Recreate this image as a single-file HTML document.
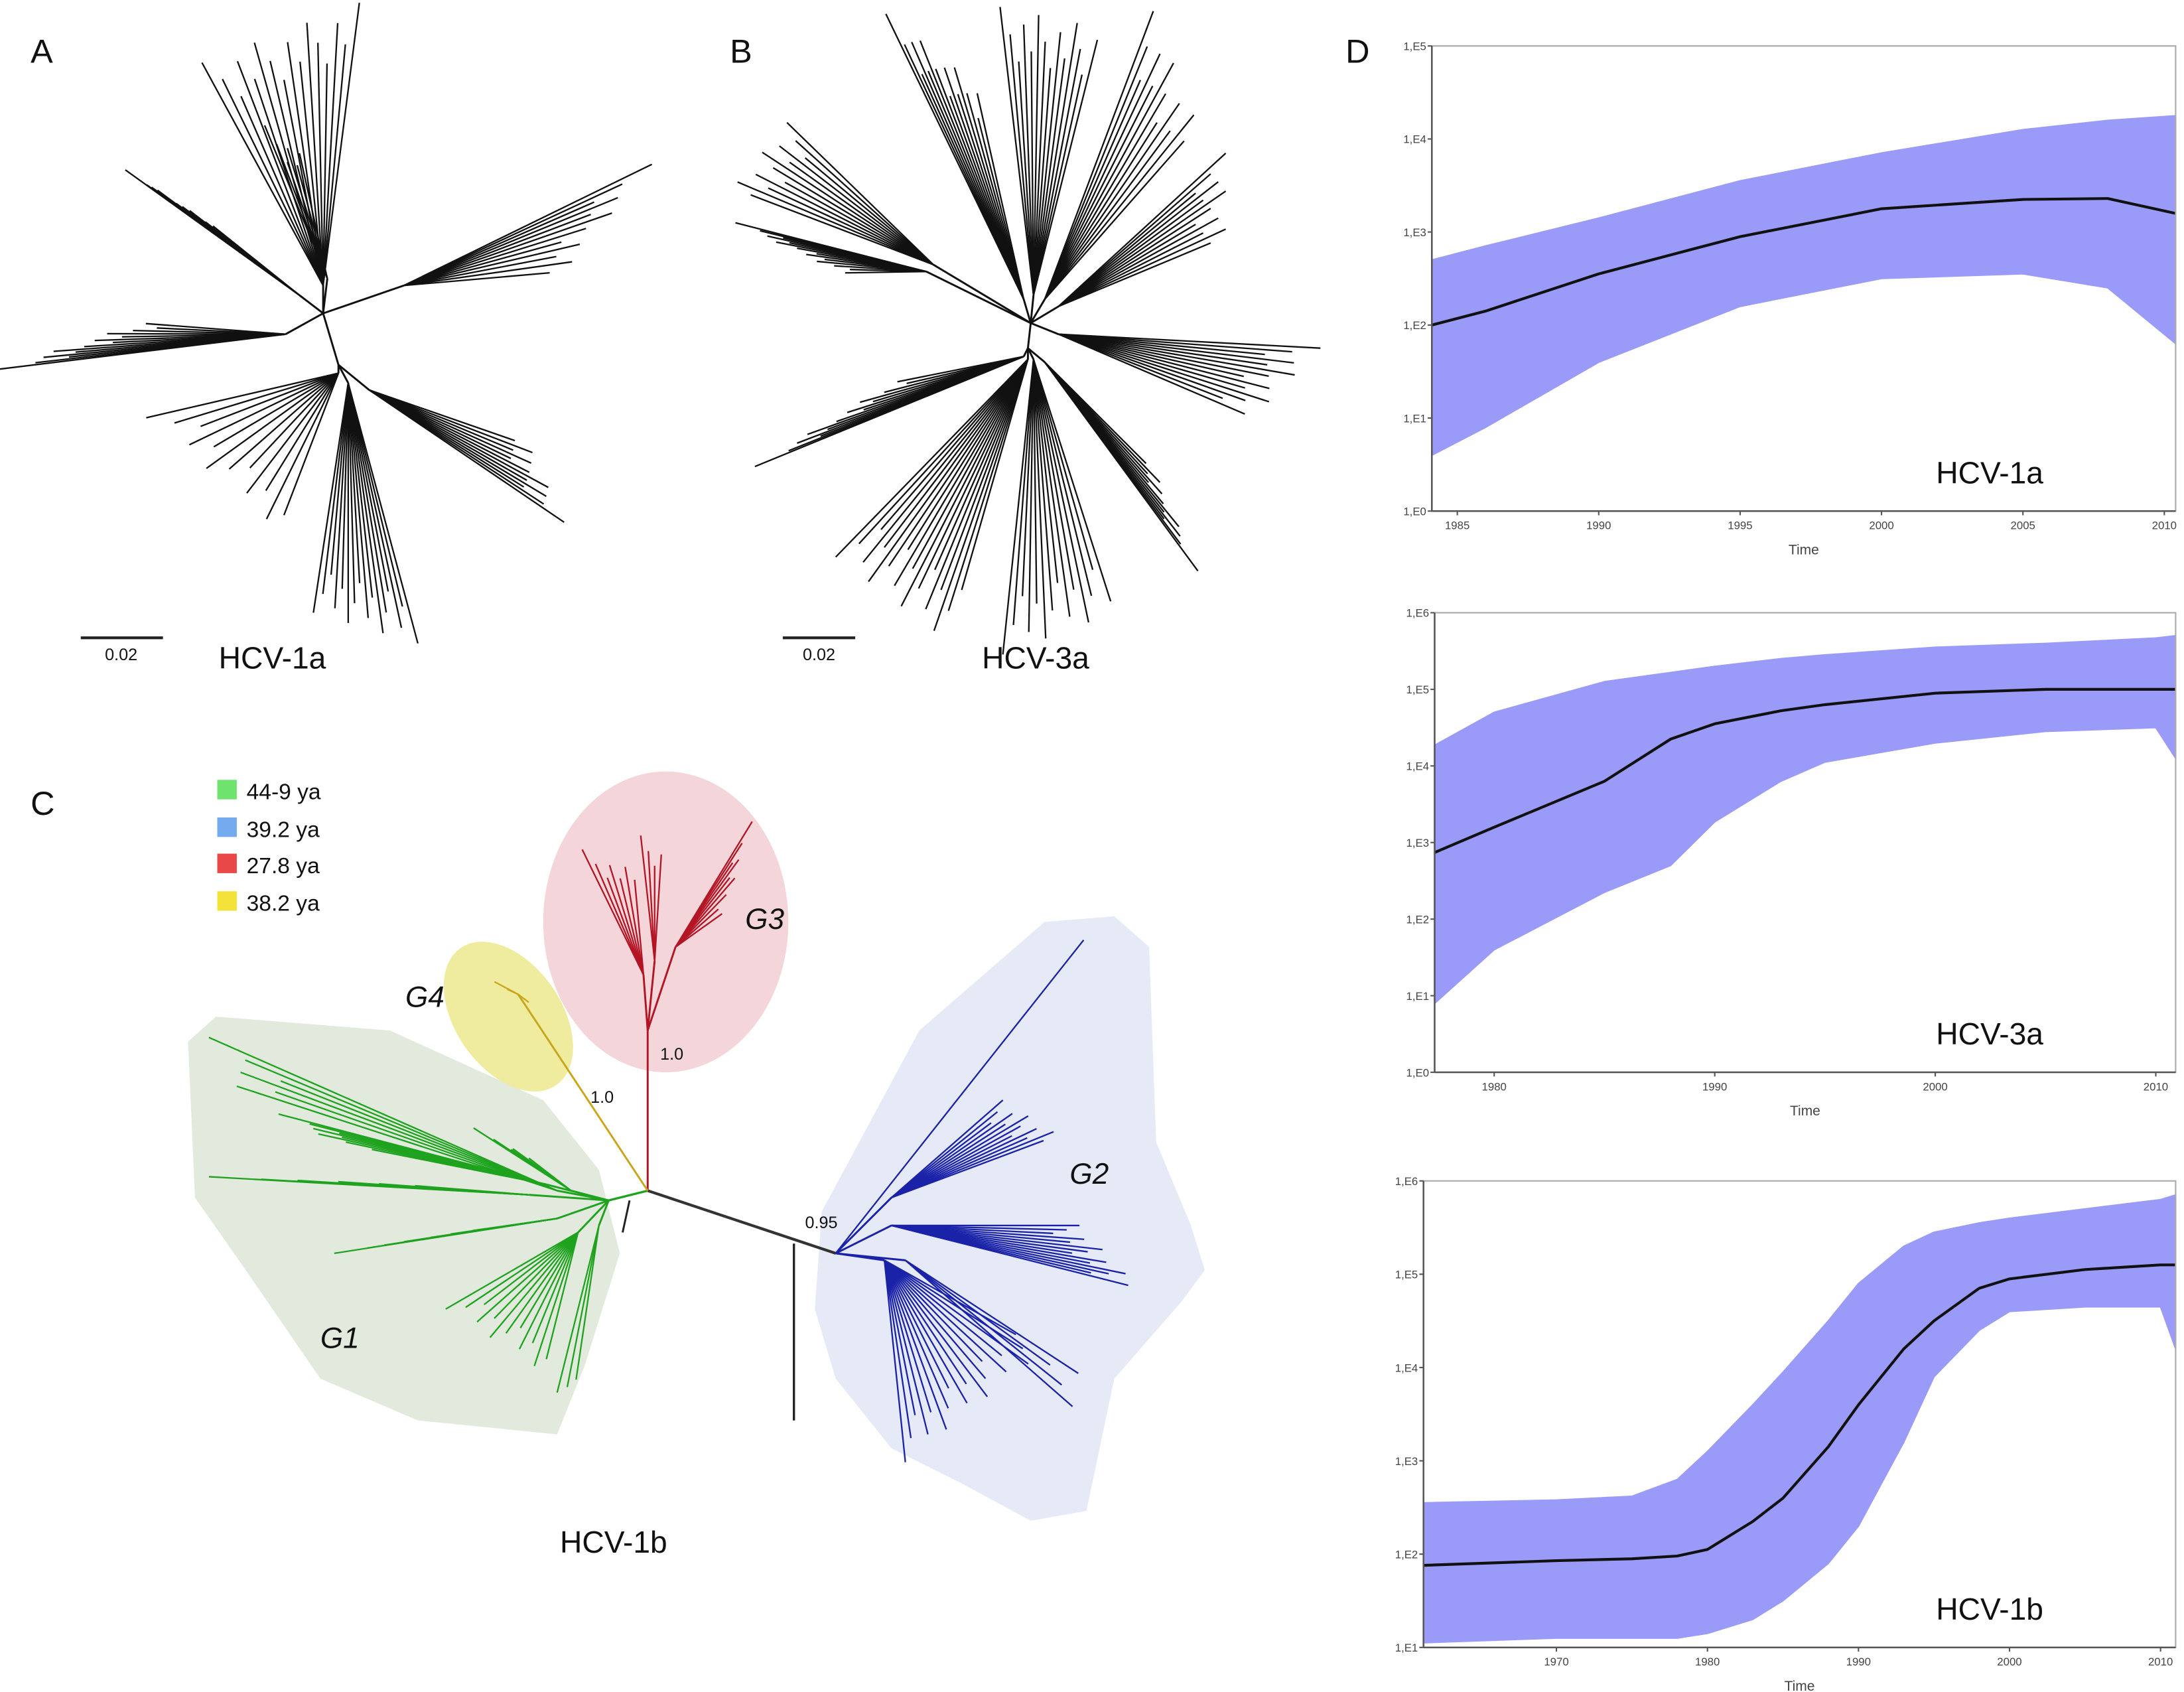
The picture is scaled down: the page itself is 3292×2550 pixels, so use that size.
<!DOCTYPE html>
<html><head><meta charset="utf-8"><style>
html,body{margin:0;padding:0;background:#fff;}
svg{display:block;font-family:"Liberation Sans",sans-serif;}
</style></head><body>
<svg id="fig" width="3292" height="2550" viewBox="0 0 1568 1215" preserveAspectRatio="none" xmlns="http://www.w3.org/2000/svg">
<rect x="0" y="0" width="1568" height="1215" fill="#fff"/>
<g id="panelA"></g>
<g id="panelB"></g>
<g id="panelC">
 <polygon points="135,748 155,730 280,740 390,790 430,840 445,900 420,980 400,1030 300,1020 230,990 175,910 140,860" fill="#e2eadd"/>
 <ellipse cx="365" cy="730" rx="38" ry="60" transform="rotate(-35 365 730)" fill="#efeca0"/>
 <ellipse cx="478" cy="662" rx="88" ry="108" fill="#f4d6da"/>
 <polygon points="590,870 660,740 750,662 800,658 825,680 830,820 855,880 865,912 848,935 800,990 780,1085 740,1092 690,1065 640,1040 600,990 585,940" fill="#e6e9f6"/>
</g>
<g id="panelD"></g>
<g font-size="24" fill="#111">
 <text x="22" y="45">A</text>
 <text x="524" y="45">B</text>
 <text x="22" y="585">C</text>
 <text x="966" y="45">D</text>
 <line x1="58" y1="458" x2="117" y2="458" stroke="#222" stroke-width="2"/>
 <text x="87" y="474" font-size="12" text-anchor="middle">0.02</text>
 <text x="157" y="480" font-size="22">HCV-1a</text>
 <line x1="562" y1="458" x2="614" y2="458" stroke="#222" stroke-width="2"/>
 <text x="588" y="474" font-size="12" text-anchor="middle">0.02</text>
 <text x="705" y="480" font-size="22">HCV-3a</text>
 <text x="402" y="1115" font-size="22">HCV-1b</text>
 <g font-size="16">
  <rect x="156" y="560" width="14" height="14" fill="#6ee46e"/><text x="177" y="574">44-9 ya</text>
  <rect x="156" y="587" width="14" height="14" fill="#74aaee"/><text x="177" y="601">39.2 ya</text>
  <rect x="156" y="613" width="14" height="14" fill="#e84848"/><text x="177" y="627">27.8 ya</text>
  <rect x="156" y="640" width="14" height="14" fill="#f2e23a"/><text x="177" y="654">38.2 ya</text>
 </g>
 <g font-style="italic" font-size="21">
  <text x="230" y="968">G1</text>
  <text x="768" y="850">G2</text>
  <text x="535" y="667">G3</text>
  <text x="291" y="723">G4</text>
 </g>
 <g font-size="12">
  <text x="474" y="761">1.0</text>
  <text x="424" y="792">1.0</text>
  <text x="578" y="882">0.95</text>
 </g>
</g>
</svg>
<script>
// ---- Skyline plot data (log10 Ne*tau) ----
const yearsA = [1984.1,1986,1990,1995,2000,2005,2008,2010.4];
const medA   = [2.0,2.15,2.55,2.95,3.25,3.35,3.36,3.2];
const upA    = [2.7,2.85,3.15,3.55,3.85,4.1,4.2,4.25];
const loA    = [0.6,0.9,1.6,2.2,2.5,2.55,2.4,1.8];
const yearsB = [1977.3,1980,1985,1988,1990,1993,1995,2000,2005,2010,2010.9];
const medB   = [2.87,3.2,3.8,4.35,4.55,4.72,4.8,4.95,5.0,5.0,5.0];
const upB    = [4.27,4.7,5.1,5.22,5.3,5.4,5.45,5.55,5.6,5.67,5.7];
const loB    = [0.9,1.6,2.35,2.7,3.27,3.8,4.05,4.3,4.45,4.5,4.1];
const yearsC = [1961.2,1970,1975,1978,1980,1983,1985,1988,1990,1993,1995,1998,2000,2005,2010,2011];
const medC   = [1.88,1.93,1.95,1.98,2.05,2.35,2.6,3.15,3.6,4.2,4.5,4.85,4.95,5.05,5.1,5.1];
const upC    = [2.55,2.58,2.62,2.8,3.1,3.6,3.95,4.5,4.9,5.3,5.45,5.55,5.6,5.7,5.8,5.85];
const loC    = [1.05,1.1,1.1,1.1,1.15,1.3,1.5,1.9,2.3,3.2,3.9,4.4,4.6,4.65,4.65,4.2];
const xticksA = [1985,1990,1995,2000,2005,2010];
const xticksB = [1980,1990,2000,2010];
const xticksC = [1970,1980,1990,2000,2010];

const NS="http://www.w3.org/2000/svg";
function mk(parent,tag,attrs){const e=document.createElementNS(NS,tag);for(const k in attrs)e.setAttribute(k,attrs[k]);parent.appendChild(e);return e;}

function skyline(g,box,x0,x1,ylo,yhi,years,med,up,lo,xticks,title,name){
  const sx=v=>box.l+(v-x0)/(x1-x0)*(box.r-box.l);
  const sy=v=>box.b-(v-ylo)/(yhi-ylo)*(box.b-box.t);
  const grp=mk(g,'g',{});
  
  
  let pts=[];
  years.forEach((y,i)=>pts.push(sx(y)+','+sy(up[i])));
  for(let i=years.length-1;i>=0;i--)pts.push(sx(years[i])+','+sy(lo[i]));
  const band=mk(grp,'polygon',{points:pts.join(' '),fill:'#9a9af8',"stroke":'#9a9af8',"stroke-linejoin":'round',"stroke-width":1});
  
  
  const line=mk(grp,'polyline',{points:years.map((y,i)=>sx(y)+','+sy(med[i])).join(' '),fill:'none',stroke:'#111',"stroke-width":2,"stroke-linejoin":'round'});
  
  
  const fr=mk(grp,'rect',{x:box.l,y:box.t,width:box.r-box.l,height:box.b-box.t,fill:'none',stroke:'#aaa',"stroke-width":1});
  
  
  mk(grp,'line',{x1:box.l,y1:box.t,x2:box.l,y2:box.b,stroke:'#555',"stroke-width":1.2});
  mk(grp,'line',{x1:box.l,y1:box.b,x2:box.r,y2:box.b,stroke:'#555',"stroke-width":1.2});
  for(let v=ylo;v<=yhi;v++){
    const t=mk(grp,'text',{x:box.l-4,y:sy(v)+3,"font-size":8,"text-anchor":"end",fill:'#444'});
    t.textContent='1,E'+v;
    
    
    mk(grp,'line',{x1:box.l-3,y1:sy(v),x2:box.l,y2:sy(v),stroke:'#555'});
  }
  xticks.forEach(v=>{
    mk(grp,'line',{x1:sx(v),y1:box.b,x2:sx(v),y2:box.b+3,stroke:'#555'});
    const t=mk(grp,'text',{x:sx(v),y:box.b+13,"font-size":8,"text-anchor":"middle",fill:'#444'});
    t.textContent=v;
    
    
  });
  const xt=mk(grp,'text',{x:(box.l+box.r)/2,y:box.b+31,"font-size":10,"text-anchor":"middle",fill:'#444'});
  xt.textContent='Time';
  
  
  const tt=mk(grp,'text',{x:box.r-172,y:box.b-20,"font-size":22,fill:'#111'});
  tt.textContent=title;
  
  
}
const D=document.getElementById('panelD');
skyline(D,{l:1028,r:1562,t:33,b:367},1984.1,2010.4,0,5,yearsA,medA,upA,loA,xticksA,'HCV-1a','skyline-hcv-1a');
skyline(D,{l:1030,r:1562,t:440,b:770},1977.3,2010.9,0,6,yearsB,medB,upB,loB,xticksB,'HCV-3a','skyline-hcv-3a');
skyline(D,{l:1022,r:1562,t:848,b:1183},1961.2,2011,1,6,yearsC,medC,upC,loC,xticksC,'HCV-1b','skyline-hcv-1b');

// ---- Trees ----
function seg(g,x1,y1,x2,y2,c,w){return mk(g,'line',{x1:x1,y1:y1,x2:x2,y2:y2,stroke:c,"stroke-width":w||1.2});}
function fan(g,cx,cy,nx,ny,e,n,c){
  seg(g,cx,cy,nx,ny,c,1.4);
  for(let i=0;i<n;i++){
    const t=n==1?0:i/(n-1);
    const ex=e[0]+(e[2]-e[0])*t, ey=e[1]+(e[3]-e[1])*t;
    const f=1-0.18*((i*7)%5)/4;
    seg(g,nx,ny,nx+(ex-nx)*f,ny+(ey-ny)*f,c,1.1);
  }
}
const A=document.getElementById('panelA');
const k='#111';
seg(A,232,225,243,262,k,1.4);
fan(A,232,225,232,205,[145,45,258,2],16,k);
fan(A,232,225,215,212,[90,122,150,160],14,k);
fan(A,232,225,235,200,[190,90,215,110],6,k);
fan(A,232,225,290,205,[468,118,405,195],12,k);
fan(A,232,225,205,240,[0,265,100,232],14,k);
fan(A,243,262,243,268,[105,300,200,380],12,k);
fan(A,243,262,250,275,[225,440,300,462],16,k);
fan(A,243,262,265,280,[405,375,380,320],12,k);

const B=document.getElementById('panelB');
seg(B,740,232,738,250,k,1.4);
fan(B,740,232,735,215,[636,10,700,60],14,k);
fan(B,740,232,742,212,[718,5,790,20],14,k);
fan(B,740,232,750,215,[828,8,860,90],12,k);
fan(B,740,232,670,190,[565,88,526,135],12,k);
fan(B,740,232,665,195,[528,160,604,196],14,k);
fan(B,740,232,760,220,[880,110,880,170],12,k);
fan(B,740,232,760,240,[948,250,900,300],14,k);
fan(B,738,250,735,256,[542,335,640,275],14,k);
fan(B,738,250,738,258,[600,400,680,460],18,k);
fan(B,738,250,742,258,[720,470,800,440],14,k);
fan(B,738,250,750,260,[860,410,830,340],12,k);

const C=document.getElementById('panelC');
const grn='#1fa31f', blu='#1a23a8', red='#b31525', yel='#c9a61b';
seg(C,465,855,600,900,'#333',2);
seg(C,465,855,437,862,grn,1.6);
seg(C,452,862,447,885,'#222',1.4);
seg(C,570,893,570,1020,'#222',1.6);
seg(C,465,855,465,740,red,1.4);
fan(C,465,740,462,700,[418,610,455,625],7,red);
fan(C,465,740,470,690,[460,600,475,610],4,red);
fan(C,465,740,485,680,[540,590,520,655],9,red);
fan(C,465,855,372,714,[355,705,380,720],4,yel);
fan(C,437,862,400,855,[150,745,170,780],6,grn);
fan(C,437,862,390,850,[200,800,240,820],8,grn);
fan(C,437,862,410,855,[340,810,375,828],5,grn);
fan(C,437,862,380,858,[150,845,280,850],8,grn);
fan(C,437,862,400,875,[240,900,330,885],10,grn);
fan(C,437,862,415,885,[320,940,390,985],12,grn);
fan(C,437,862,430,880,[400,1000,410,1015],3,grn);
fan(C,600,900,600,900,[778,675,778,675],1,blu);
fan(C,600,900,640,860,[720,790,760,815],12,blu);
fan(C,600,900,640,880,[775,880,818,925],14,blu);
fan(C,600,900,635,905,[650,1050,750,970],18,blu);
fan(C,600,900,650,905,[770,1010,780,990],4,blu);
</script>
</body></html>
